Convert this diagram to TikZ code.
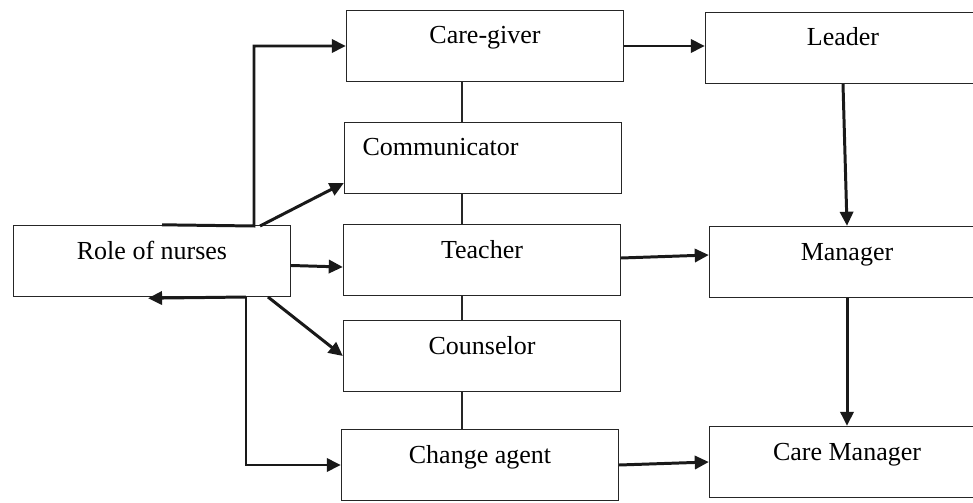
\documentclass[tikz,border=0pt]{standalone}
\usepackage{fontspec}
\setmainfont{Liberation Serif}
\usepackage{tikz}
\usetikzlibrary{arrows.meta,calc,positioning}

\begin{document}
\begin{tikzpicture}[
  x=0.02cm, y=-0.02cm,
  font=\fontsize{14.8}{17}\selectfont,
  box/.style={draw=black!85, line width=0.8pt, inner xsep=0pt, inner ysep=0pt,
    minimum width=5.54cm, text height=0.67cm, text depth=0.75cm},
  arr/.style={-{Triangle[length=8pt, width=7.5pt]}, line width=1.7pt, black!90},
  link/.style={line width=0.8pt, black!85},
]
  \clip (0,0) rectangle (973,503);

  \node[box] (nurses) at (152,261) {Role of nurses};

  \node[box] (caregiver) at (485,46) {Care-giver};
  \node[box, inner xsep=0.36cm, text width=4.82cm, align=left] (communicator) at (483,158) {Communicator};
  \node[box] (teacher) at (482,260) {Teacher};
  \node[box] (counselor) at (482,356) {Counselor};
  \node[box] (changeagent) at (480,465) {Change agent};

  \node[box, minimum width=5.5cm] (leader) at (843,48) {Leader};
  \node[box, minimum width=5.5cm] (manager) at (847,262) {Manager};
  \node[box, minimum width=5.5cm] (caremanager) at (847,462) {Care Manager};

  \coordinate (spine) at (462,0);
  \coordinate (topfork) at (254,226);
  \coordinate (botfork) at (246,297);

  \draw[link] (caregiver.south -| spine) -- (communicator.north -| spine);
  \draw[link] (communicator.south -| spine) -- (teacher.north -| spine);
  \draw[link] (teacher.south -| spine) -- (counselor.north -| spine);
  \draw[link] (counselor.south -| spine) -- (changeagent.north -| spine);

  \draw[arr] ([xshift=0.2cm]nurses.north) -- (topfork) |- (caregiver.west);
  \draw[arr] ([xshift=0.12cm]topfork) -- ([yshift=-0.5cm]communicator.west);
  \draw[arr] ([yshift=-0.09cm]nurses.east) -- ([yshift=-0.14cm]teacher.west);
  \draw[arr] ([xshift=0.44cm]botfork) -- (counselor.west);
  \draw[arr] (botfork) |- (changeagent.west);
  \draw[arr] (botfork) -- ([xshift=-0.08cm,yshift=-0.02cm]nurses.south);

  \draw[arr] (caregiver.east) -- (caregiver.east -| leader.west);
  \draw[arr] (leader.south) -- (manager.north);
  \draw[arr] ([yshift=0.04cm]teacher.east) -- ([yshift=0.14cm]manager.west);
  \draw[arr] (manager.south) -- (caremanager.north);
  \draw[arr] (changeagent.east) -- (caremanager.west);
\end{tikzpicture}
\end{document}
